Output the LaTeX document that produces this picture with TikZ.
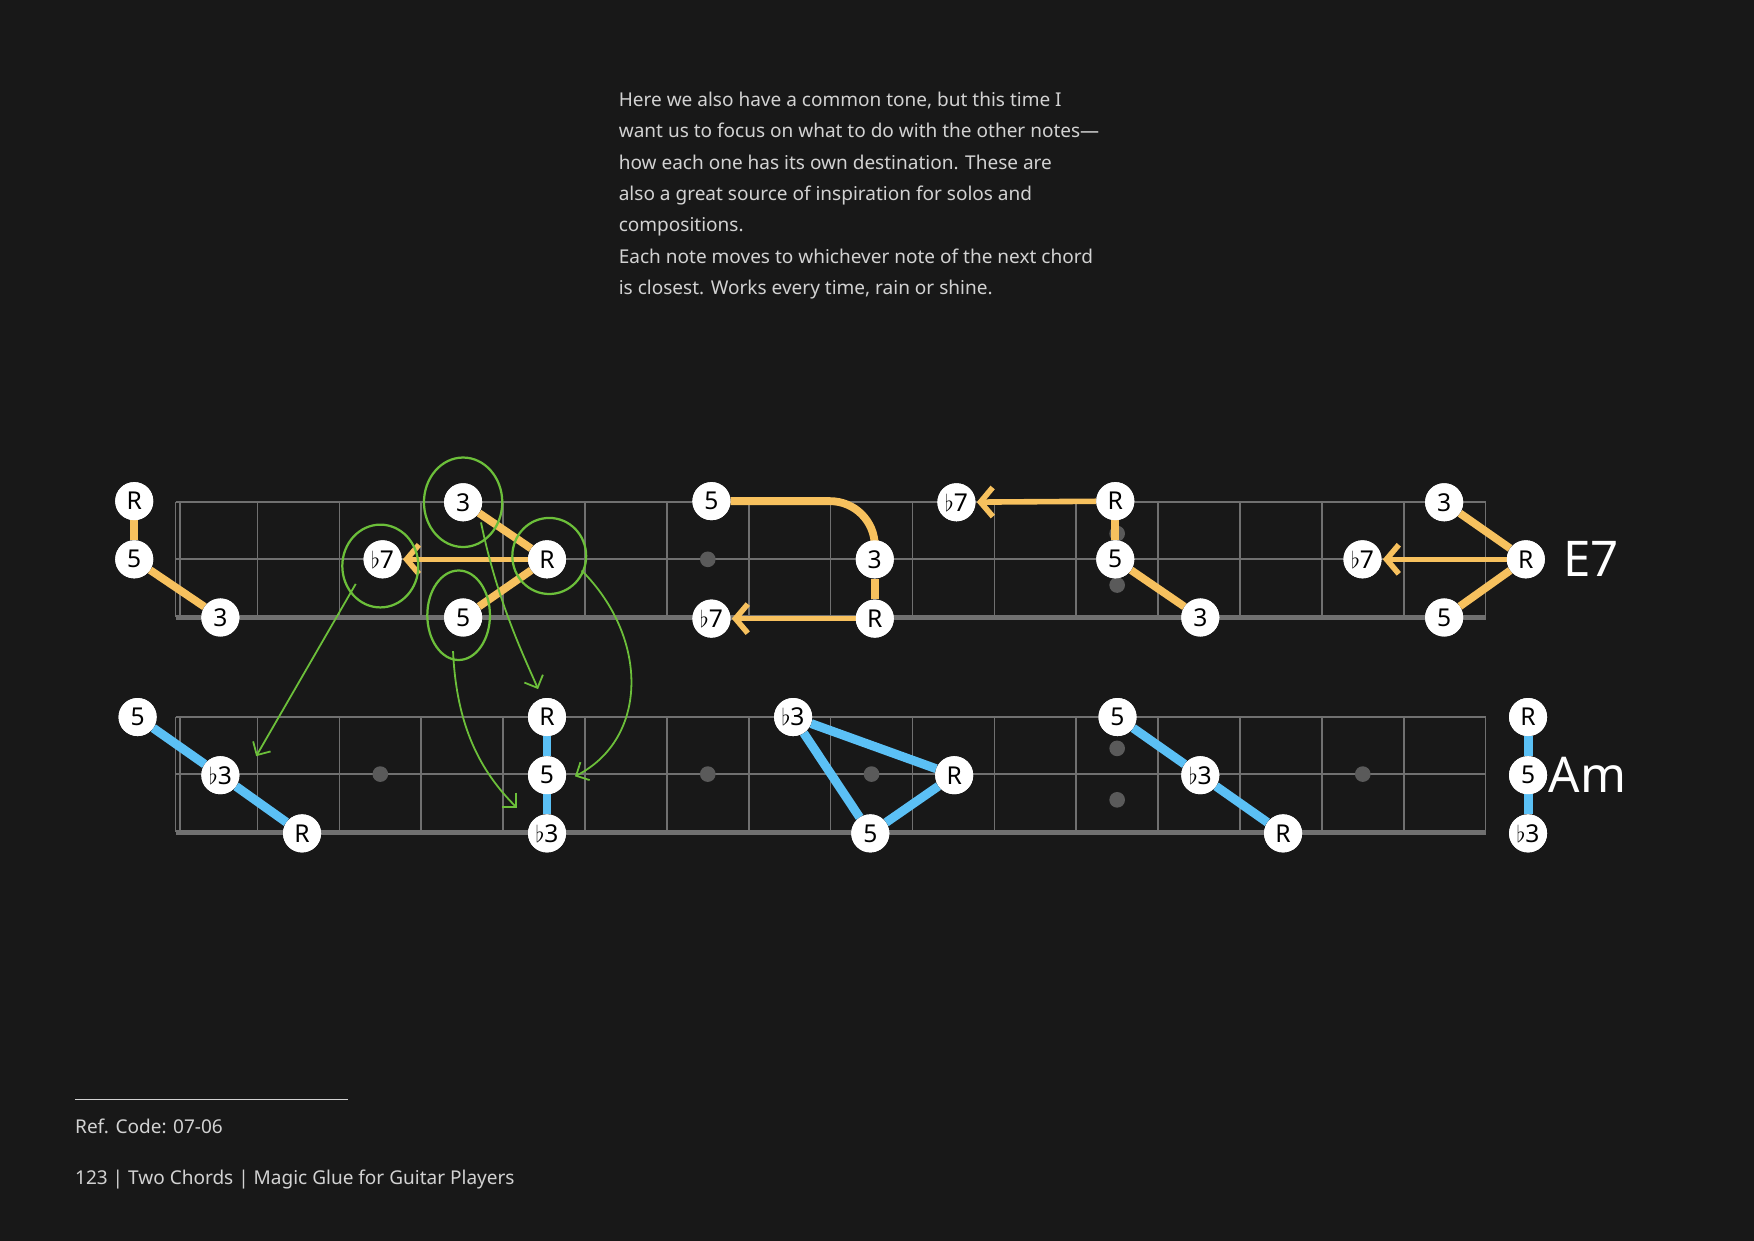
\documentclass[tikz,border=0pt]{standalone}
\usepackage{fontspec}
\setmainfont{Noto Sans}
\usetikzlibrary{arrows.meta}
\definecolor{bg}{HTML}{181818}
\definecolor{grid}{HTML}{707070}
\definecolor{org}{HTML}{F7C15E}
\definecolor{blu}{HTML}{5BC0F5}
\definecolor{grn}{HTML}{6CBF3A}
\definecolor{txt}{HTML}{D2D2D2}
\definecolor{dotc}{HTML}{5A5A5A}
\newcommand{\fl}{\ensuremath{\flat}}
\begin{document}
\begin{tikzpicture}[x=1pt,y=-1pt,
  n/.style={circle,fill=white,inner sep=0pt,minimum size=34pt,font=\fontsize{22}{22}\selectfont,text=black},
  ol/.style={org,line width=7pt},
  bl/.style={blu,line width=8pt},
  oa/.style={org,line width=5pt,-{Straight Barb[length=11pt,width=26pt,line width=5pt]},shorten >=1pt},
  ga/.style={grn,line width=1.6pt,-{Straight Barb[length=9pt,width=18pt,line width=1.6pt]}},
  gc/.style={grn,line width=2pt},
  dt/.style={fill=dotc,draw=none}]
\fill[bg] (0,0) rectangle (1568,1109);
\useasboundingbox (0,0) rectangle (1568,1109);
% boards
\foreach \t in {449,641}{
  \pgfmathsetmacro{\m}{\t+51}\pgfmathsetmacro{\b}{\t+103}
  \foreach \k in {1,...,16}{\draw[grid,line width=1.5pt] ({157+73.19*\k},\t) -- ({157+73.19*\k},\b);}
  \draw[grid,line width=1.5pt] (157,\t) -- (157,\b) (161,\t)--(161,\b);
  \draw[grid,line width=1.5pt] (157,\t) -- (1328,\t);
  \draw[grid,line width=1.5pt] (157,\m) -- (1328,\m);
  \draw[grid,line width=4pt] (157,\b) -- (1328,\b);
  \foreach \k in {2,4,6,8,14}{\fill[dotc] ({157+73.19*(\k+0.5)},\m) circle (7);}
  \fill[dotc] ({157+73.19*11.5},{\m-23}) circle (7);
  \fill[dotc] ({157+73.19*11.5},{\m+23}) circle (7);
}
% ---------- top row E7 ----------
\node[n] (a1) at (120,448) {R};
\node[n] (a2) at (120,500) {5};
\node[n] (a3) at (197,552) {3};
\node[n] (b1) at (414,449) {3};
\node[n] (b2) at (342,500) {\fl7};
\node[n] (b3) at (489,500) {R};
\node[n] (b4) at (414,552) {5};
\node[n] (c1) at (636,448) {5};
\node[n] (c2) at (782,500) {3};
\node[n] (c3) at (636,553) {\fl7};
\node[n] (c4) at (782,553) {R};
\node[n] (d1) at (855,449) {\fl7};
\node[n] (d2) at (997,448) {R};
\node[n] (d3) at (997,500) {5};
\node[n] (d4) at (1073,552) {3};
\node[n] (e1) at (1291,449) {3};
\node[n] (e2) at (1218,500) {\fl7};
\node[n] (e3) at (1364,500) {R};
\node[n] (e4) at (1291,552) {5};
\node[anchor=west,text=white,font=\fontsize{44}{44}\selectfont] (e7) at (1394,500) {E7};
\begin{scope}[on background layer/.try]
\end{scope}
% lines (drawn then nodes redrawn on top via behind path trick)
\begin{pgfonlayer}{main}\end{pgfonlayer}
\draw[ol] (a1) -- (a2); \draw[ol] (a2) -- (a3);
\draw[ol] (b1) -- (b3); \draw[ol] (b3) -- (b4); \draw[oa] (b3) -- (b2);
\draw[ol,rounded corners=40pt] (c1) -- (782,448) -- (c2); \draw[ol] (c2) -- (c4); \draw[oa] (c4) -- (c3);
\draw[oa] (d2) -- (d1); \draw[ol] (d2) -- (d3); \draw[ol] (d3) -- (d4);
\draw[ol] (e1) -- (e3); \draw[ol] (e3) -- (e4); \draw[oa] (e3) -- (e2);
% redraw nodes on top
\foreach \p/\l in {a1/R,a2/5,a3/3,b1/3,b2/\fl7,b3/R,b4/5,c1/5,c2/3,c3/\fl7,c4/R,d1/\fl7,d2/R,d3/5,d4/3,e1/3,e2/\fl7,e3/R,e4/5}{
  \node[n] at (\p) {\l};}
% ---------- bottom row Am ----------
\node[n] (f1) at (123,641) {5};
\node[n] (f2) at (197,693) {\fl3};
\node[n] (f3) at (270,745) {R};
\node[n] (g1) at (489,641) {R};
\node[n] (g2) at (489,693) {5};
\node[n] (g3) at (489,745) {\fl3};
\node[n] (h1) at (709,641) {\fl3};
\node[n] (h2) at (853,693) {R};
\node[n] (h3) at (778,745) {5};
\node[n] (i1) at (999,641) {5};
\node[n] (i2) at (1073,693) {\fl3};
\node[n] (i3) at (1147,745) {R};
\node[n] (j1) at (1366,641) {R};
\node[n] (j2) at (1366,693) {5};
\node[n] (j3) at (1366,745) {\fl3};
\node[anchor=west,text=white,font=\fontsize{44}{44}\selectfont] (am) at (1381,693) {Am};
\draw[bl] (f1) -- (f2); \draw[bl] (f2) -- (f3);
\draw[bl] (g1) -- (g2); \draw[bl] (g2) -- (g3);
\draw[bl] (h1) -- (h2); \draw[bl] (h2) -- (h3); \draw[bl] (h3) -- (h1);
\draw[bl] (i1) -- (i2); \draw[bl] (i2) -- (i3);
\draw[bl] (j1) -- (j2); \draw[bl] (j2) -- (j3);
\foreach \p/\l in {f1/5,f2/\fl3,f3/R,g1/R,g2/5,g3/\fl3,h1/\fl3,h2/R,h3/5,i1/5,i2/\fl3,i3/R,j1/R,j2/5,j3/\fl3}{
  \node[n] at (\p) {\l};}
% ---------- green annotations ----------
\draw[gc] (b1) ellipse [x radius=35, y radius=40];
\draw[gc] (340,506) ellipse [x radius=34, y radius=37];
\draw[gc] (491,497) ellipse [x radius=33, y radius=34];
\draw[gc] (410,550) ellipse [x radius=28, y radius=40];
\coordinate (s1) at (318,522); \coordinate (t1) at (229,676);
\coordinate (s2) at (430,467); \coordinate (t2) at (481,616);
\coordinate (s3) at (405,582); \coordinate (t3) at (462,722);
\coordinate (s4) at (520,510); \coordinate (t4) at (514,694);
\draw[ga] (s1) -- (t1);
\draw[ga] (s2) .. controls (445,540) and (470,590) .. (t2);
\draw[ga] (s3) .. controls (408,650) and (430,690) .. (t3);
\draw[ga] (s4) .. controls (580,570) and (580,660) .. (t4);
% ---------- text ----------
\node[anchor=north west,align=left,text=txt,font=\fontsize{17}{28}\selectfont,inner sep=0pt] (body) at (553,82) {Here we also have a common tone, but this time I\\want us to focus on what to do with the other notes—\\\textbf{how each one has its own destination}. These are\\also \textbf{a great source of inspiration} for solos and\\compositions.\\Each note moves to whichever note of the next chord\\is closest. Works every time, rain or shine.};
\coordinate (r1) at (67,983); \coordinate (r2) at (311,983);
\draw[txt,line width=1.5pt] (r1) -- (r2);
\node[anchor=west,text=txt,font=\fontsize{17}{17}\selectfont,inner sep=0pt] (ref) at (67,1007) {Ref. Code: 07-06};
\node[anchor=west,text=txt,font=\fontsize{17}{17}\selectfont,inner sep=0pt] (foot) at (67,1054) {123 | Two Chords | Magic Glue for Guitar Players};
\end{tikzpicture}
\end{document}
